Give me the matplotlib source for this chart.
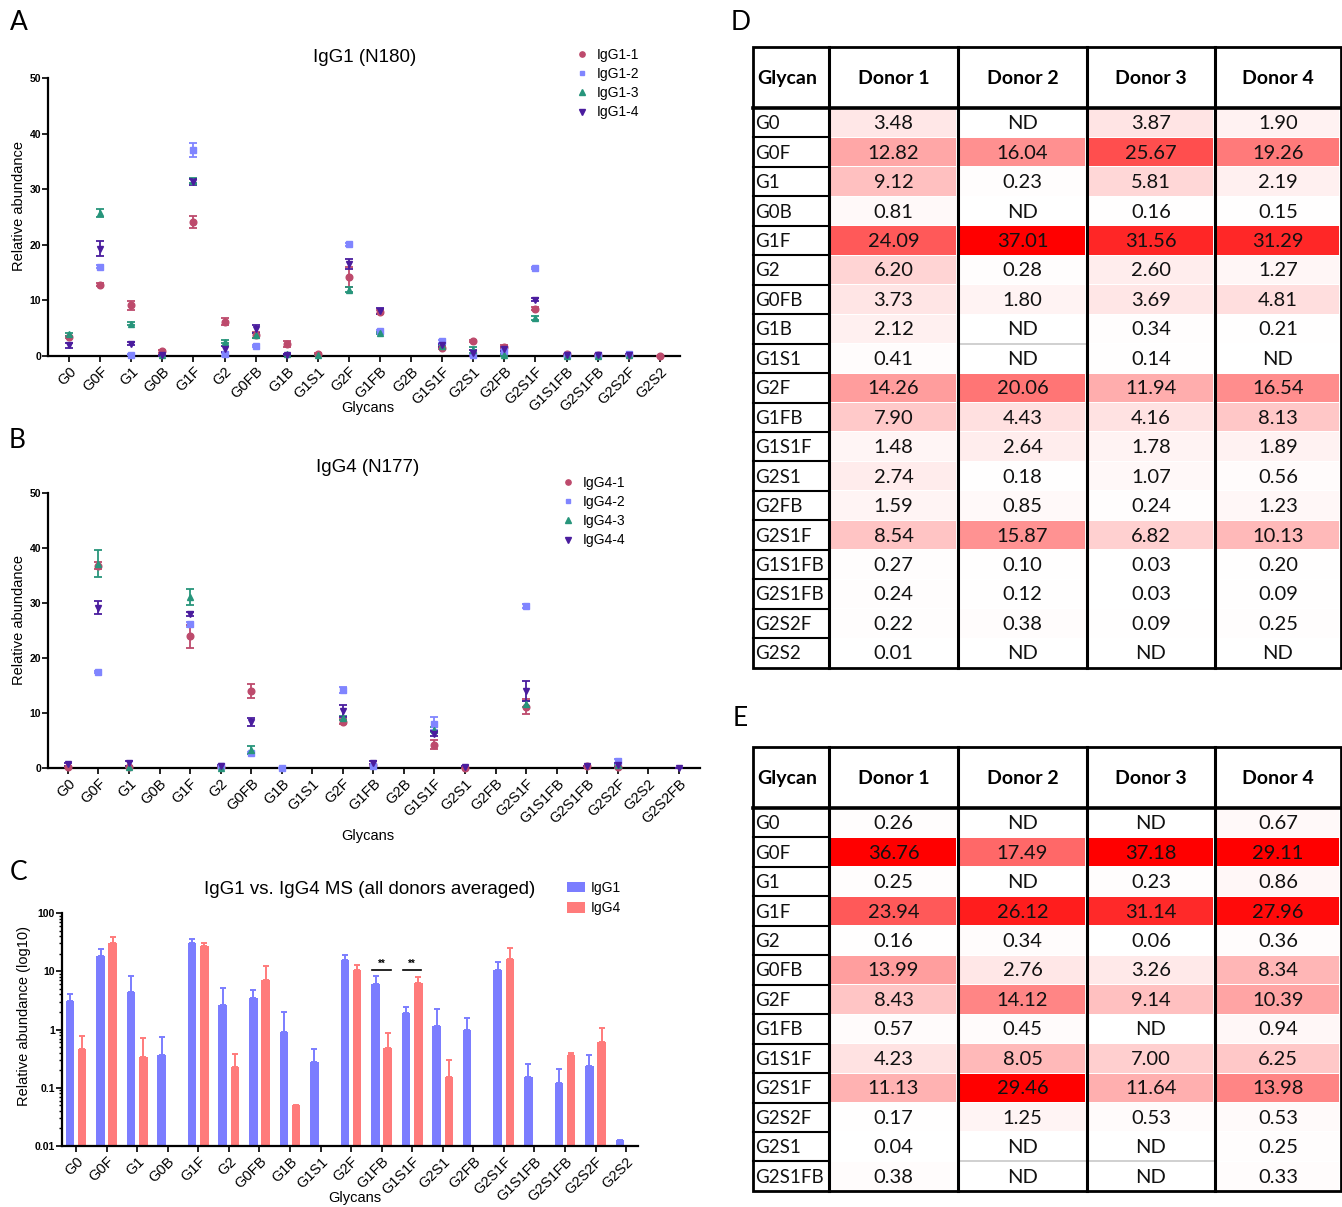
import numpy as np
import matplotlib
matplotlib.use("Agg")
import matplotlib.pyplot as plt
from matplotlib.lines import Line2D
from matplotlib.patches import Rectangle, Patch

plt.rcParams['font.family'] = ['Liberation Sans', 'DejaVu Sans']

W, H = 1342, 1207

# ---------------- data: table D (IgG1, N180) ----------------
glycans_d = ["G0", "G0F", "G1", "G0B", "G1F", "G2", "G0FB", "G1B", "G1S1", "G2F",
             "G1FB", "G1S1F", "G2S1", "G2FB", "G2S1F", "G1S1FB", "G2S1FB", "G2S2F", "G2S2"]
igg1_d1 = [3.48, 12.82, 9.12, 0.81, 24.09, 6.20, 3.73, 2.12, 0.41, 14.26, 7.90, 1.48, 2.74, 1.59, 8.54, 0.27, 0.24, 0.22, 0.01]
igg1_d2 = [None, 16.04, 0.23, None, 37.01, 0.28, 1.80, None, None, 20.06, 4.43, 2.64, 0.18, 0.85, 15.87, 0.10, 0.12, 0.38, None]
igg1_d3 = [3.87, 25.67, 5.81, 0.16, 31.56, 2.60, 3.69, 0.34, 0.14, 11.94, 4.16, 1.78, 1.07, 0.24, 6.82, 0.03, 0.03, 0.09, None]
igg1_d4 = [1.90, 19.26, 2.19, 0.15, 31.29, 1.27, 4.81, 0.21, None, 16.54, 8.13, 1.89, 0.56, 1.23, 10.13, 0.20, 0.09, 0.25, None]
# error bars seen in panel A
igg1_err1 = [0.2, 0.3, 0.78, 0.2, 1.15, 0.55, 0.5, 0.5, 0.1, 1.8, 0.4, 0.3, 0.2, 0.3, 0.3, 0.05, 0.05, 0.05, 0.0]
igg1_err2 = [None, 0.3, 0.1, None, 1.27, 0.2, 0.2, None, None, 0.3, 0.3, 0.3, 0.1, 0.2, 0.2, 0.05, 0.05, 0.05, None]
igg1_err3 = [0.2, 0.75, 0.3, 0.1, 0.4, 0.35, 0.4, 0.1, 0.05, 0.5, 0.2, 0.2, 0.5, 0.2, 0.42, 0.05, 0.05, 0.05, None]
igg1_err4 = [0.42, 1.35, 0.3, 0.1, 0.6, 0.5, 0.7, 0.1, None, 0.9, 0.5, 0.3, 0.5, 0.3, 0.25, 0.05, 0.05, 0.05, None]

# ---------------- data: table E (IgG4, N177) ----------------
glycans_e = ["G0", "G0F", "G1", "G1F", "G2", "G0FB", "G2F", "G1FB", "G1S1F", "G2S1F", "G2S2F", "G2S1", "G2S1FB"]
igg4_d1 = [0.26, 36.76, 0.25, 23.94, 0.16, 13.99, 8.43, 0.57, 4.23, 11.13, 0.17, 0.04, 0.38]
igg4_d2 = [None, 17.49, None, 26.12, 0.34, 2.76, 14.12, 0.45, 8.05, 29.46, 1.25, None, None]
igg4_d3 = [None, 37.18, 0.23, 31.14, 0.06, 3.26, 9.14, None, 7.00, 11.64, 0.53, None, None]
igg4_d4 = [0.67, 29.11, 0.86, 27.96, 0.36, 8.34, 10.39, 0.94, 6.25, 13.98, 0.53, 0.25, 0.33]
igg4_err1 = [0.1, 0.65, 0.1, 2.1, 0.05, 1.3, 0.45, 0.1, 0.85, 1.35, 0.1, 0.05, 0.05]
igg4_err2 = [None, 0.2, None, 0.5, 0.1, 0.2, 0.55, 0.1, 1.2, 0.3, 0.3, None, None]
igg4_err3 = [None, 2.45, 0.1, 1.45, 0.05, 0.8, 0.35, None, 0.5, 0.5, 0.2, None, None]
igg4_err4 = [0.3, 1.2, 0.45, 0.4, 0.1, 0.75, 1.05, 0.3, 0.5, 1.8, 0.3, 0.1, 0.1]
# points in panel B that are not listed in table E
extra_glycans_b = ["G1B", "G2S2FB"]
extra_b_d2 = [0.05, None]
extra_b_d4 = [None, 0.05]

# x categories of the dot plots
glycans_a = ["G0", "G0F", "G1", "G0B", "G1F", "G2", "G0FB", "G1B", "G1S1", "G2F", "G1FB", "G2B",
             "G1S1F", "G2S1", "G2FB", "G2S1F", "G1S1FB", "G2S1FB", "G2S2F", "G2S2"]
glycans_b = glycans_a + ["G2S2FB"]

# ---------------- data: panel C (donor averages) ----------------
glycans_c = ["G0", "G0F", "G1", "G0B", "G1F", "G2", "G0FB", "G1B", "G1S1", "G2F", "G1FB",
             "G1S1F", "G2S1", "G2FB", "G2S1F", "G1S1FB", "G2S1FB", "G2S2F", "G2S2"]
igg1_mean = [3.08, 18.45, 4.34, 0.37, 30.99, 2.59, 3.51, 0.89, 0.28, 15.70, 6.16, 1.95, 1.14, 0.98, 10.34, 0.15, 0.12, 0.24, 0.0125]
igg1_sd = [1.04, 5.49, 3.94, 0.38, 5.30, 2.59, 1.25, 1.07, 0.19, 3.46, 2.15, 0.49, 1.13, 0.58, 3.93, 0.11, 0.09, 0.12, None]
igg4_mean = [0.47, 30.14, 0.34, None, 27.29, 0.23, 7.09, 0.05, None, 10.52, 0.49, 6.38, 0.15, None, 16.55, None, 0.36, 0.62, None]
igg4_sd = [0.29, 9.21, 0.37, None, 3.05, 0.15, 5.25, None, None, 2.53, 0.38, 1.61, 0.15, None, 8.69, None, 0.04, 0.45, None]
sig_glycans = ["G1FB", "G1S1F"]
sig_level = 10.5

red, blue, green, purple = '#bd4a6c', '#8085ff', '#27957b', '#4a1c9e'
bar_blue, bar_red = '#7b7dff', '#ff7b7b'


def arr(vals):
    return np.array([np.nan if v is None else v for v in vals], dtype=float)


def box(l, t, r, b):
    return [l / W, 1 - b / H, (r - l) / W, (b - t) / H]


fig = plt.figure(figsize=(W / 100, H / 100), dpi=100)


def ftext(x, y, s, **kw):
    return fig.text(x / W, 1 - y / H, s, **kw)


def style_axes(ax):
    for s in ['top', 'right']:
        ax.spines[s].set_visible(False)
    for s in ['left', 'bottom']:
        ax.spines[s].set_linewidth(1.6)
    ax.tick_params(axis='both', width=1.4, length=4, color='#222222')
    ax.tick_params(axis='y', labelsize=7.5, pad=1)
    ax.tick_params(axis='x', labelsize=10.5, pad=2)
    for lab in ax.get_yticklabels():
        lab.set_fontweight('bold')


def dot_panel(rect, cats, rows, values, errors, labels, xlim, leg_xy):
    ax = fig.add_axes(rect)
    pos = {g: i for i, g in enumerate(cats)}
    markers = ['o', 's', '^', 'v']
    sizes = [4.8, 4.5, 5, 5]
    colors = [red, blue, green, purple]
    handles = []
    for vals, err, lab, c, m, ms in zip(values, errors, labels, colors, markers, sizes):
        x = [pos[g] for g in rows]
        y = arr(vals)
        e = np.nan_to_num(arr(err))
        ax.errorbar(x, y, yerr=e, fmt=m, ms=ms, color=c, ecolor=c, capsize=3,
                    elinewidth=1.3, capthick=1.3, ls='none', clip_on=False, zorder=3)
        handles.append(Line2D([], [], marker=m, ls='none', color=c, ms=ms - 1, label=lab))
    ax.set_xlim(*xlim)
    ax.set_ylim(0, 50)
    ax.set_yticks([0, 10, 20, 30, 40, 50])
    ax.set_xticks(range(len(cats)))
    ax.set_xticklabels(cats, rotation=45, ha='right', va='top', rotation_mode='anchor')
    style_axes(ax)
    ax.legend(handles=handles, loc='upper left', frameon=False, fontsize=10,
              bbox_to_anchor=(leg_xy[0] / W, 1 - leg_xy[1] / H), bbox_transform=fig.transFigure,
              handlelength=0.8, handletextpad=0.7, labelspacing=0.37, borderpad=0, borderaxespad=0)
    return ax


# ---------------- panel A ----------------
dot_panel(box(48, 78, 680, 356), glycans_a, glycans_d,
          [igg1_d1, igg1_d2, igg1_d3, igg1_d4], [igg1_err1, igg1_err2, igg1_err3, igg1_err4],
          ['IgG1-1', 'IgG1-2', 'IgG1-3', 'IgG1-4'], (-0.68, 19.65), (576, 48))
ftext(365, 58, 'IgG1 (N180)', fontsize=13.5, ha='center', va='center')
ftext(19, 206, 'Relative abundance', fontsize=10.5, rotation=90, ha='center', va='center')
ftext(368, 408, 'Glycans', fontsize=10.5, ha='center', va='center')

# ---------------- panel B ----------------
rows_b = glycans_e + extra_glycans_b
dot_panel(box(48, 493, 700, 768), glycans_b, rows_b,
          [igg4_d1 + [None, None], igg4_d2 + extra_b_d2, igg4_d3 + [None, None], igg4_d4 + extra_b_d4],
          [igg4_err1 + [None, None], igg4_err2 + [0, None], igg4_err3 + [None, None], igg4_err4 + [None, 0]],
          ['IgG4-1', 'IgG4-2', 'IgG4-3', 'IgG4-4'], (-0.65, 20.69), (562, 476))
ftext(368, 467, 'IgG4 (N177)', fontsize=13.5, ha='center', va='center')
ftext(19, 620, 'Relative abundance', fontsize=10.5, rotation=90, ha='center', va='center')
ftext(368, 836, 'Glycans', fontsize=10.5, ha='center', va='center')

# ---------------- panel C ----------------
axc = fig.add_axes(box(62, 913, 638, 1146))
axc.set_yscale('log')
xc = np.arange(len(glycans_c))
m1, s1 = arr(igg1_mean), arr(igg1_sd)
m4, s4 = arr(igg4_mean), arr(igg4_sd)
axc.bar(xc - 0.2, m1, width=0.28, color=bar_blue, label='IgG1', zorder=2)
axc.bar(xc + 0.2, m4, width=0.28, color=bar_red, label='IgG4', zorder=2)
axc.errorbar(xc - 0.2, m1, yerr=[np.zeros_like(s1), s1], fmt='none', ecolor=bar_blue,
             capsize=2.5, elinewidth=1.4, capthick=1.4, zorder=2)
axc.errorbar(xc + 0.2, m4, yerr=[np.zeros_like(s4), s4], fmt='none', ecolor=bar_red,
             capsize=2.5, elinewidth=1.4, capthick=1.4, zorder=2)
for g in sig_glycans:
    i = glycans_c.index(g)
    axc.plot([i - 0.3, i + 0.3], [sig_level, sig_level], color='black', lw=1.2)
    axc.text(i, sig_level * 1.04, '**', ha='center', va='bottom', fontsize=7, fontweight='bold')
axc.set_xlim(-0.46, 18.39)
axc.set_ylim(0.01, 100)
axc.set_yticks([0.01, 0.1, 1, 10, 100])
axc.set_yticklabels(['0.01', '0.1', '1', '10', '100'])
axc.set_xticks(xc)
axc.set_xticklabels(glycans_c, rotation=45, ha='right', va='top', rotation_mode='anchor')
style_axes(axc)
axc.tick_params(axis='y', which='minor', length=2, width=1)
axc.legend(loc='upper left', frameon=False, fontsize=10,
           bbox_to_anchor=(567 / W, 1 - 881 / H), bbox_transform=fig.transFigure,
           handlelength=1.3, handleheight=0.8, handletextpad=0.4, labelspacing=0.45,
           borderpad=0, borderaxespad=0)
ftext(370, 890, 'IgG1 vs. IgG4 MS (all donors averaged)', fontsize=13.5, ha='center', va='center')
ftext(24, 1016, 'Relative abundance (log10)', fontsize=10.5, rotation=90, ha='center', va='center')
ftext(355, 1198, 'Glycans', fontsize=10.5, ha='center', va='center')

# ---------------- tables D and E ----------------
col_w = [76, 129, 129, 128, 126]
header_h = 61
row_h = 29.45
donor_names = ['Donor 1', 'Donor 2', 'Donor 3', 'Donor 4']
tfont = 'Lato'


def draw_table(left, top, glycans, donors, per_column, grey_lines):
    n = len(glycans)
    width = sum(col_w)
    height = header_h + n * row_h
    ax = fig.add_axes(box(left, top, left + width, top + height))
    ax.set_xlim(0, width)
    ax.set_ylim(height, 0)
    ax.axis('off')
    edges = np.concatenate([[0], np.cumsum(col_w)])
    vals = [arr(d) for d in donors]
    gmax = max(np.nanmax(v) for v in vals)
    for j, v in enumerate(vals):
        vmax = np.nanmax(v) if per_column else gmax
        cx = (edges[j + 1] + edges[j + 2]) / 2
        for i, val in enumerate(v):
            y0 = header_h + i * row_h
            if np.isnan(val):
                txt = 'ND'
            else:
                f = val / vmax
                ax.add_patch(Rectangle((edges[j + 1] + 2, y0 + 0.5), col_w[j + 1] - 4, row_h - 1,
                                       color=(1, 1 - f, 1 - f), lw=0))
                txt = f'{val:.2f}'
            ax.text(cx, y0 + row_h / 2 + 1, txt, ha='center', va='center', fontsize=14.5,
                    family=tfont, color='#111111')
        ax.text(cx, header_h / 2 + 1, donor_names[j], ha='center', va='center', fontsize=14,
                family=tfont, fontweight='bold')
    ax.text(4, header_h / 2 + 1, 'Glycan', ha='left', va='center', fontsize=14,
            family=tfont, fontweight='bold')
    for i, g in enumerate(glycans):
        y0 = header_h + i * row_h
        ax.text(2, y0 + row_h / 2 + 1, g, ha='left', va='center', fontsize=13.5, family=tfont,
                color='#111111')
        if i > 0:
            ax.plot([0, edges[1]], [y0, y0], color='black', lw=1.5, clip_on=False)
    for r, c in grey_lines:
        y = header_h + r * row_h
        ax.plot([edges[c], edges[c + 1]], [y, y], color='#c8c8c8', lw=1.2)
    for e in edges[1:-1]:
        ax.plot([e, e], [0, height], color='black', lw=2.2, clip_on=False)
    ax.plot([0, width], [header_h, header_h], color='black', lw=2.6, clip_on=False)
    ax.add_patch(Rectangle((0, 0), width, height, fill=False, ec='black', lw=2.0, clip_on=False))


draw_table(753, 47, glycans_d, [igg1_d1, igg1_d2, igg1_d3, igg1_d4], False, [(8, 2)])
draw_table(753, 747, glycans_e, [igg4_d1, igg4_d2, igg4_d3, igg4_d4], True, [(12, 2), (12, 3)])

# ---------------- panel letters ----------------
for lab, (x, y) in zip(['A', 'B', 'C', 'D', 'E'],
                       [(19, 22), (17, 440), (19, 873), (741, 22), (740, 718)]):
    ftext(x, y, lab, fontsize=19, family=tfont, ha='center', va='center')

fig.savefig('out.png', dpi=100)
